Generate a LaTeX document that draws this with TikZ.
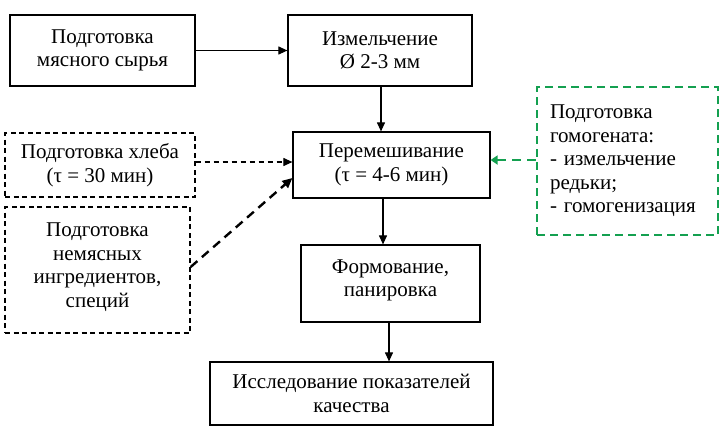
\documentclass[tikz,border=0pt]{standalone}
\usepackage{fontspec}
\setmainfont{Liberation Serif}
\usetikzlibrary{positioning}
\usetikzlibrary{arrows.meta}

\definecolor{stepgreen}{RGB}{20,160,80}

\tikzset{
  blk/.style={draw, rectangle, line width=1.2pt, align=center, inner sep=2pt},
  dblk/.style={blk, dash pattern=on 5pt off 3.5pt},
  arr/.style={line width=1.1pt, -{Triangle[length=9pt,width=8pt]}},
}

\begin{document}
\begin{tikzpicture}[x=1pt, y=-1pt, font=\rmfamily\fontsize{21}{23.5}\selectfont]

    \useasboundingbox (0,0) rectangle (728,437);

    \node[blk, minimum width=185pt, minimum height=71pt] (raw) at (102.5,50.5) { Подготовка\\мясного сырья };
    \node[blk, minimum width=184pt, minimum height=71pt] (grind) at (380,50.5) { Измельчение\\Ø 2-3 мм };

    \node[blk, minimum width=197pt, minimum height=66pt] (mix) at (391.5,165) { Перемешивание\\(τ = 4-6 мин) };
    \node[dblk, minimum width=190pt, minimum height=64pt] (bread) at (100,165) { Подготовка хлеба\\(τ = 30 мин) };
    \node[dblk, minimum width=185pt, minimum height=126pt] (spice) at (97.5,270) { Подготовка\\немясных\\ингредиентов,\\специй\\[-13.5pt] };
    \node[blk, draw=stepgreen, line width=2.2pt, dash pattern=on 8pt off 5pt,
          minimum width=181pt, minimum height=148pt, text width=155pt, align=left] (homog) at (627.5,161)
          { Подготовка\\гомогената:\\- измельчение\\редьки;\\- гомогенизация };

    \node[blk, minimum width=179pt, minimum height=77pt] (form) at (390.5,283.5) { Формование,\\панировка\\[-13pt] };
    \node[blk, minimum width=283pt, minimum height=63pt] (qual) at (351.5,393.5) { Исследование показателей\\качества };

    \draw[arr] (raw) -- (grind);
    \draw[arr] (grind.south) ++(1,0) -- (mix.north -| 381,0);
    \draw[arr, dash pattern=on 5pt off 4pt] (bread.east |- 0,162) -- (mix.west |- 0,162);
    \draw[arr, line width=2.4pt, dash pattern=on 9pt off 6pt, -{Triangle[length=10pt,width=9pt]}] (spice.east |- 0,267) -- (mix.west |- 0,178);
    \draw[line width=2.4pt, draw=stepgreen, dash pattern=on 9pt off 6pt, -{Triangle[length=7pt,width=9pt]}] (homog.west |- 0,160) -- (mix.east |- 0,160);
    \draw[arr] (mix.south -| 383,0) -- (form.north -| 383,0);
    \draw[arr] (form.south -| 389,0) -- (qual.north -| 389,0);

\end{tikzpicture}
\end{document}
